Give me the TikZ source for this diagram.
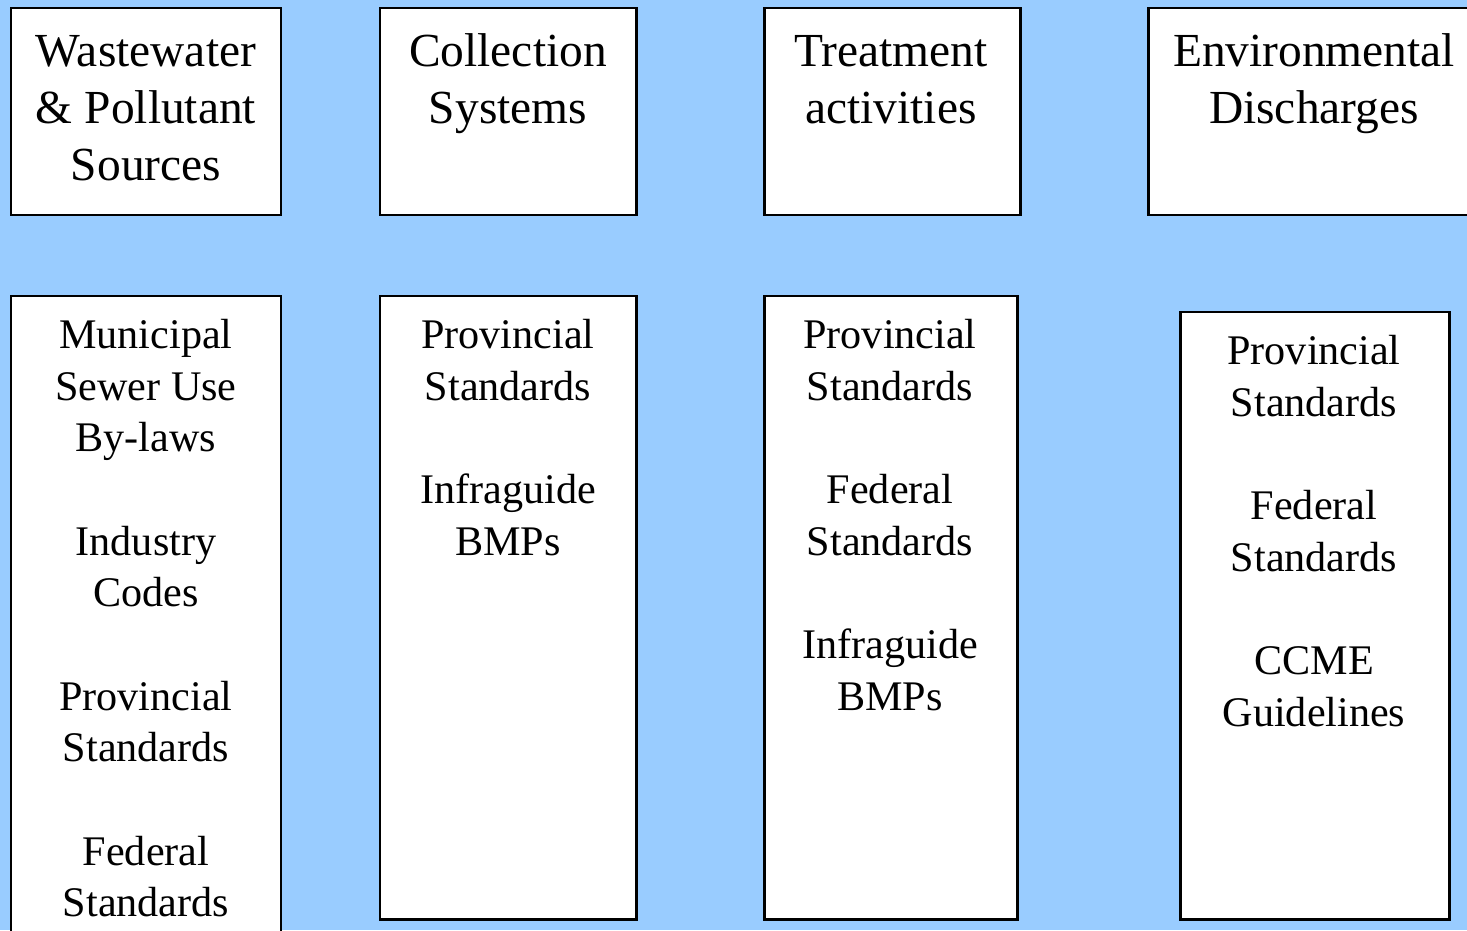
\documentclass[tikz,border=0pt]{standalone}
\usepackage{fontspec}
\setmainfont{Liberation Serif}
\definecolor{skyback}{HTML}{99CCFF}

\begin{document}
\begin{tikzpicture}[x=0.02cm,y=-0.02cm,
  box/.style={draw=black,fill=white,line width=1.7pt},
  head/.style={anchor=north,align=center,inner sep=0pt,font=\fontsize{27}{32.5}\selectfont},
  rules/.style={anchor=north,align=center,inner sep=0pt,font=\fontsize{24}{29.4}\selectfont}]
\fill[skyback] (0,0) rectangle (1467,930);
\clip (0,0) rectangle (1467,930);

% top row
\draw[box] (11,8) rectangle (281,215);
\node[head] (sources) at (146,26) {\strut Wastewater\\\& Pollutant\\Sources};

\draw[box] (380,8) rectangle (636,215);
\node[head] (collection) at (508,26) {\strut Collection\\Systems};

\draw[box] (764,8) rectangle (1020,215);
\node[head] (treatment) at (891,26) {\strut Treatment\\activities};

\draw[box] (1148,8) rectangle (1482,215);
\node[head] (discharges) at (1314,26) {\strut Environmental\\Discharges};

% bottom row
\draw[box] (11,296) rectangle (281,945);
\node[rules] (sourcerules) at (146,312) {\strut Municipal\\Sewer Use\\By-laws\\[29.4pt]Industry\\Codes\\[29.4pt]Provincial\\Standards\\[29.4pt]Federal\\Standards};

\draw[box] (380,296) rectangle (636,919);
\node[rules] (collectionrules) at (508,312) {\strut Provincial\\Standards\\[29.4pt]Infraguide\\BMPs};

\draw[box] (764,296) rectangle (1017,919);
\node[rules] (treatmentrules) at (890,312) {\strut Provincial\\Standards\\[29.4pt]Federal\\Standards\\[29.4pt]Infraguide\\BMPs};

% right one
\draw[box] (1180,312) rectangle (1449,919);
\node[rules] (dischargerules) at (1314,328) {\strut Provincial\\Standards\\[29.4pt]Federal\\Standards\\[29.4pt]CCME\\Guidelines};

\end{tikzpicture}
\end{document}
